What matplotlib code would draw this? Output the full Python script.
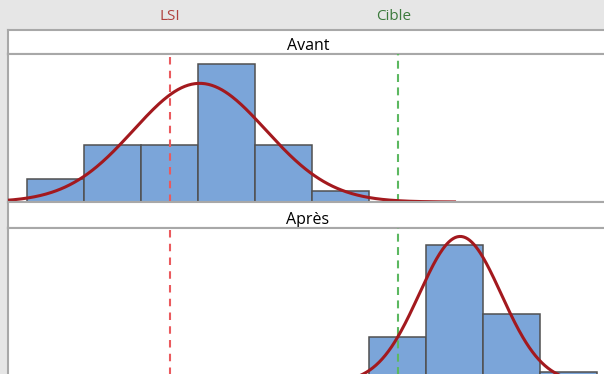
import numpy as np
import matplotlib
matplotlib.use("Agg")
import matplotlib.pyplot as plt
from matplotlib.transforms import blended_transform_factory

# histogram data (bin centres, counts) for each period
avant_bins = [10, 11, 12, 13, 14, 15]
avant_counts = [2, 5, 5, 12, 5, 1]
apres_bins = [16, 17, 18, 19]
apres_counts = [4, 12, 6, 1]

# fitted normal curves
avant_mean, avant_sd = 12.53, 1.16
apres_mean, apres_sd = 17.10, 0.72

lsi = 12.0
cible = 16.0
bin_width = 1.0

W, H = 604, 374
fig = plt.figure(figsize=(W / 100, H / 100), dpi=100, facecolor="#e6e6e6")
plt.rcParams["font.family"] = ["Open Sans", "DejaVu Sans"]

border = "#a8a8a8"
left_px, right_px = 8, 608
px_per_count = 11.5


def box(top, bottom):
    return [left_px / W, 1 - bottom / H, (right_px - left_px) / W, (bottom - top) / H]


def style(ax):
    ax.set_facecolor("white")
    ax.set_xticks([])
    ax.set_yticks([])
    for s in ax.spines.values():
        s.set_color(border)
        s.set_linewidth(1.5)


xmin = 9.5 - (27 - left_px) / 57
xmax = xmin + (right_px - left_px) / 57

panels = [
    ("Avant", avant_bins, avant_counts, avant_mean, avant_sd, 30, 54, 202, (9.1, 17.0)),
    ("Après", apres_bins, apres_counts, apres_mean, apres_sd, 202, 228, 383, (13.5, 20.8)),
]

axes = []
for title, bins, counts, mu, sd, head_top, plot_top, plot_bot, span in panels:
    hax = fig.add_axes(box(head_top, plot_top))
    style(hax)
    hax.text(0.5, 0.0, title, ha="center", va="bottom", fontsize=11.5,
             color="black", transform=hax.transAxes)

    ax = fig.add_axes(box(plot_top, plot_bot))
    style(ax)
    ax.set_xlim(xmin, xmax)
    ax.set_ylim(0, (plot_bot - plot_top) / px_per_count)
    ax.bar(bins, counts, width=bin_width, color="#7ba5d9",
           edgecolor="#505050", linewidth=1.1, zorder=2)

    xs = np.linspace(span[0], span[1], 400)
    n = sum(counts)
    ys = n * bin_width * np.exp(-0.5 * ((xs - mu) / sd) ** 2) / (sd * np.sqrt(2 * np.pi))
    ax.plot(xs, ys, color="#a3191e", linewidth=2.2, zorder=4, clip_on=True)

    ax.axvline(lsi, color="#ea5a5e", linewidth=1.5, dashes=(3.6, 3.0), zorder=3)
    ax.axvline(cible, color="#5cb860", linewidth=1.5, dashes=(3.8, 2.6), zorder=3)
    axes.append(ax)

# reference line labels above the panels
trans = blended_transform_factory(axes[0].transData, fig.transFigure)
fig.text(lsi, 1 - 17 / H, "LSI", color="#b0413e", fontsize=11,
         ha="center", va="center", transform=trans)
fig.text(cible - 0.07, 1 - 17 / H, "Cible", color="#3c7a3c", fontsize=11,
         ha="center", va="center", transform=trans)

fig.savefig("out.png", dpi=100, facecolor=fig.get_facecolor())
